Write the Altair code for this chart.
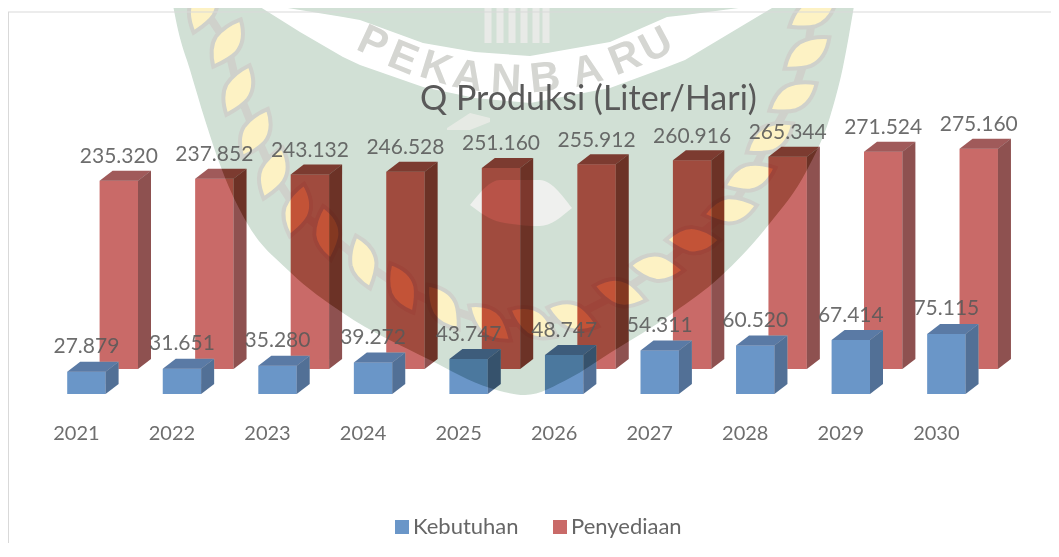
import altair as alt
import pandas as pd

# ---- chart values -------------------------------------------------------
years = [2021, 2022, 2023, 2024, 2025, 2026, 2027, 2028, 2029, 2030]
kebutuhan = [27879, 31651, 35280, 39272, 43747, 48747, 54311, 60520, 67414, 75115]
penyediaan = [235320, 237852, 243132, 246528, 251160, 255912, 260916, 265344, 271524, 275160]
series_names = ["Kebutuhan", "Penyediaan"]
title_text = "Q Produksi (Liter/Hari)"

# ---- watermark outline (page pixels) ------------------------------------
shield_edge = [(172, 0), (178, 30), (190, 70), (205, 120), (222, 170), (247, 223), (290, 272),
               (343, 313), (430, 360), (490, 388), (525, 395), (570, 378), (610, 353),
               (673, 313), (720, 277), (770, 223), (807, 170), (830, 117), (843, 67), (855, 0)]
ribbon_edge = [(257, 3, 5), (300, 10, 32), (343, 17, 57), (360, 20, 65), (423, 43, 87), (475, 52, 98),
               (530, 56, 103), (610, 42, 88), (667, 17, 67), (685, 15, 60), (777, 3, 5)]
leaves = [(203, 7, 20), (227, 43, 30), (238, 90, 25), (255, 133, 28), (273, 173, 20), (297, 210, 15),
          (327, 233, -8), (363, 262, -15), (402, 288, -25), (443, 307, -35), (490, 323, -50),
          (533, 323, -60), (573, 317, -70), (620, 293, -75), (657, 268, -85), (693, 240, 90),
          (730, 210, 80), (750, 177, 70), (770, 138, 58), (793, 97, 60), (807, 53, 55), (813, 13, 60)]
letters = [("P", 373, 43, 25), ("E", 403, 58, 22), ("K", 436, 68, 17), ("A", 468, 76, 10), ("N", 506, 80, 3),
           ("B", 545, 78, -6), ("A", 587, 71, -14), ("R", 625, 58, -22), ("U", 656, 45, -28)]
emblem_edge = [(470, 205, 205), (500, 180, 222), (540, 180, 226), (572, 208, 208)]
wing_edge = [(447, 128, 130), (470, 113, 130), (490, 118, 122)]
tower_x = [488, 500, 512, 524, 536, 546]

# ---- projection of the drawing (one px = these data units) --------------
PX_PER_UNIT = 0.0008
STEP = 95.55
W, H = 1043, 535


def X(px):
    return 2021 + (px - 67.2) / STEP


def Y(py):
    return (394 - py) / PX_PER_UNIT


def dx(px):
    return px / STEP


def dy(px):
    return px / PX_PER_UNIT


BW, DX, DY = dx(38.4), dx(13), dy(10)
RED_X, RED_Y = dx(32.4), dy(25)

xs = alt.Scale(domain=[X(8), X(8 + W)], range=[0, W], nice=False, zero=False)
ys = alt.Scale(domain=[Y(8 + H), Y(8)], nice=False, zero=False)
XQ = lambda f: alt.X(f, type="quantitative", scale=xs, axis=None)
YQ = lambda f: alt.Y(f, type="quantitative", scale=ys, axis=None, stack=None)

# ---- faces --------------------------------------------------------------
rows = {"blue_top": [], "blue_side": [], "red_top": [], "red_side": [], "red_front": []}
for yr, k, p in zip(years, kebutuhan, penyediaan):
    rows["blue_top"] += [
        dict(g=yr, x=yr, y=k, y2=k), dict(g=yr, x=yr + DX, y=k, y2=k + DY),
        dict(g=yr, x=yr + BW, y=k, y2=k + DY), dict(g=yr, x=yr + BW + DX, y=k + DY, y2=k + DY)]
    rows["blue_side"] += [
        dict(g=yr, x=yr + BW, y=0, y2=k), dict(g=yr, x=yr + BW + DX, y=DY, y2=k + DY)]
    x0, top = yr + RED_X, RED_Y + p
    rows["red_top"] += [
        dict(g=yr, x=x0, y=top, y2=top), dict(g=yr, x=x0 + DX, y=top, y2=top + DY),
        dict(g=yr, x=x0 + BW, y=top, y2=top + DY), dict(g=yr, x=x0 + BW + DX, y=top + DY, y2=top + DY)]
    rows["red_side"] += [
        dict(g=yr, x=x0 + BW, y=RED_Y, y2=top), dict(g=yr, x=x0 + BW + DX, y=RED_Y + DY, y2=top + DY)]
    # the red face stops where the blue box stands in front of it
    rows["red_front"] += [
        dict(g=yr, s=series_names[1], x=x0, y=top, y2=k + DY),
        dict(g=yr, s=series_names[1], x=yr + BW + DX, y=top, y2=RED_Y),
        dict(g=yr, s=series_names[1], x=x0 + BW, y=top, y2=RED_Y)]


def face(key, color):
    return alt.Chart(pd.DataFrame(rows[key])).mark_area(
        color=color, blend="multiply", opacity=1, interpolate="linear", orient="vertical"
    ).encode(x=XQ("x"), y=YQ("y"), y2="y2:Q", detail="g:N")


colors = alt.Scale(domain=series_names, range=["#6A96C8", "#C96A68"])
legend = alt.Legend(
    title=None, orient="none", legendX=383, legendY=508, direction="horizontal", symbolType="square",
    symbolSize=196, symbolStrokeWidth=0, labelFont="Lato", labelFontSize=22, labelColor="#666666",
    columnPadding=30, labelOffset=0, symbolOpacity=1)

red_front = alt.Chart(pd.DataFrame(rows["red_front"])).mark_area(
    blend="multiply", opacity=1, interpolate="step-after", orient="vertical"
).encode(x=XQ("x"), y=YQ("y"), y2="y2:Q", detail="g:N",
         color=alt.Color("s:N", scale=colors, legend=legend))

blue_front = alt.Chart(pd.DataFrame(dict(
    x=years, x2=[y + BW for y in years], y=[0] * 10, y2=kebutuhan, s=[series_names[0]] * 10
))).mark_bar(blend="multiply", opacity=1).encode(
    x=XQ("x"), x2="x2:Q", y=YQ("y"), y2="y2:Q",
    color=alt.Color("s:N", scale=colors, legend=legend))

# ---- labels -------------------------------------------------------------
fmt = lambda v: f"{v:,}".replace(",", ".")
blue_lab = alt.Chart(pd.DataFrame(dict(x=[y + BW / 2 for y in years], y=kebutuhan, t=[fmt(v) for v in kebutuhan]))
                     ).mark_text(font="Lato", fontSize=21, color="#595959", opacity=0.88, dy=-18.5,
                                 baseline="alphabetic", align="center"
                                 ).encode(x=XQ("x"), y=YQ("y"), text="t:N")
red_lab = alt.Chart(pd.DataFrame(dict(x=[y + RED_X + BW / 2 for y in years], y=[RED_Y + v for v in penyediaan],
                                      t=[fmt(v) for v in penyediaan]))
                    ).mark_text(font="Lato", fontSize=21, color="#595959", opacity=0.88, dy=-17.7,
                                baseline="alphabetic", align="center"
                                ).encode(x=XQ("x"), y=YQ("y"), text="t:N")
year_lab = alt.Chart(pd.DataFrame(dict(x=[y + dx(9.2) for y in years], t=[str(y) for y in years]))
                     ).mark_text(font="Lato", fontSize=20, color="#6E6E6E", baseline="alphabetic", align="center"
                                 ).encode(x=XQ("x"), y=alt.value(440 - 8), text="t:N")
title_mark = alt.Chart(pd.DataFrame(dict(t=[title_text]))).mark_text(
    font="Lato", fontSize=34, color="#595959", baseline="alphabetic", align="left"
).encode(x=alt.value(412), y=alt.value(102), text="t:N")

# ---- watermark ----------------------------------------------------------
shield_df = pd.DataFrame([dict(x=X(a), y=Y(b), y2=Y(0)) for a, b in shield_edge])
shield = alt.Chart(shield_df).mark_area(
    color="#D4E3DB", opacity=1, orient="vertical", interpolate="monotone").encode(x=XQ("x"), y=YQ("y"), y2="y2:Q")
# the same shield again over the bars: keeps white white and darkens what lies under it
shield_burn = alt.Chart(shield_df).mark_area(
    color="#EDE4DB", opacity=1, orient="vertical", interpolate="monotone", blend="color-burn"
).encode(x=XQ("x"), y=YQ("y"), y2="y2:Q")
ribbon = alt.Chart(pd.DataFrame([dict(x=X(a), y=Y(b), y2=Y(c)) for a, b, c in ribbon_edge])).mark_area(
    color="#FFFFFF", opacity=1, orient="vertical").encode(x=XQ("x"), y=YQ("y"), y2="y2:Q")
emblem = alt.Chart(pd.DataFrame([dict(x=X(a), y=Y(b), y2=Y(c)) for a, b, c in emblem_edge])).mark_area(
    color="#F0F2F0", opacity=1, interpolate="monotone", orient="vertical").encode(x=XQ("x"), y=YQ("y"), y2="y2:Q")
wing = alt.Chart(pd.DataFrame([dict(x=X(a), y=Y(b), y2=Y(c)) for a, b, c in wing_edge])).mark_area(
    color="#E8ECE8", opacity=1, orient="vertical").encode(x=XQ("x"), y=YQ("y"), y2="y2:Q")
towers = alt.Chart(pd.DataFrame(dict(x=[X(a) for a in tower_x], y=[Y(43)] * 6, y2=[Y(0)] * 6))).mark_rule(
    color="#EAECEA", strokeWidth=7).encode(x=XQ("x"), y=YQ("y"), y2="y2:Q")
leaf_df = pd.DataFrame([dict(i=i, x=X(a), y=Y(b), a=c % 360) for i, (a, b, c) in enumerate(leaves)])
rope = alt.Chart(leaf_df).mark_line(color="#D2D6D2", strokeWidth=8).encode(x=XQ("x"), y=YQ("y"), order="i:Q")
leaf_path = "M0,-1 C0.4,-0.62 0.54,-0.2 0.47,0.15 C0.38,0.5 0.14,0.8 0,1 C-0.26,0.72 -0.49,0.35 -0.47,0 C-0.42,-0.4 -0.18,-0.78 0,-1 Z"
leaf = alt.Chart(leaf_df).mark_point(shape=leaf_path, filled=True, fill="#FDF3CC", stroke="#D2D6D2",
                                     strokeWidth=4, opacity=1).encode(
    x=XQ("x"), y=YQ("y"), angle=alt.Angle("a:Q", scale=None), size=alt.value(3000))
letter_df = pd.DataFrame([dict(t=t, x=X(a), y=Y(b), a=c % 360) for t, a, b, c in letters])
word = alt.Chart(letter_df).mark_text(font="Liberation Sans", fontSize=42, fontWeight="bold", color="#D8DAD8",
                                      baseline="middle", align="center").encode(
    x=XQ("x"), y=YQ("y"), text="t:N", angle=alt.Angle("a:Q", scale=None))

# ---- frame --------------------------------------------------------------
frame_top = alt.Chart(pd.DataFrame({"k": [0]})).mark_rule(color="#D9D9D9", strokeWidth=1).encode(
    x=alt.value(0), x2=alt.value(W), y=alt.value(4))
frame_left = alt.Chart(pd.DataFrame({"k": [0]})).mark_rule(color="#D9D9D9", strokeWidth=1).encode(
    x=alt.value(0.5), y=alt.value(4), y2=alt.value(H))

chart = alt.layer(
    shield, ribbon, towers, wing, emblem, rope, leaf, word,
    face("red_top", "#A05A5A"), face("red_side", "#8E5150"), red_front,
    face("blue_top", "#5A7AA5"), face("blue_side", "#527096"), blue_front,
    shield_burn,
    frame_top, frame_left, title_mark, red_lab, blue_lab, year_lab,
).properties(
    width=W, height=H, padding=0, autosize=alt.AutoSizeParams(type="none"), background="white",
).configure_view(stroke=None)

chart.save("out.html", embed_options={"renderer": "svg", "actions": False})
